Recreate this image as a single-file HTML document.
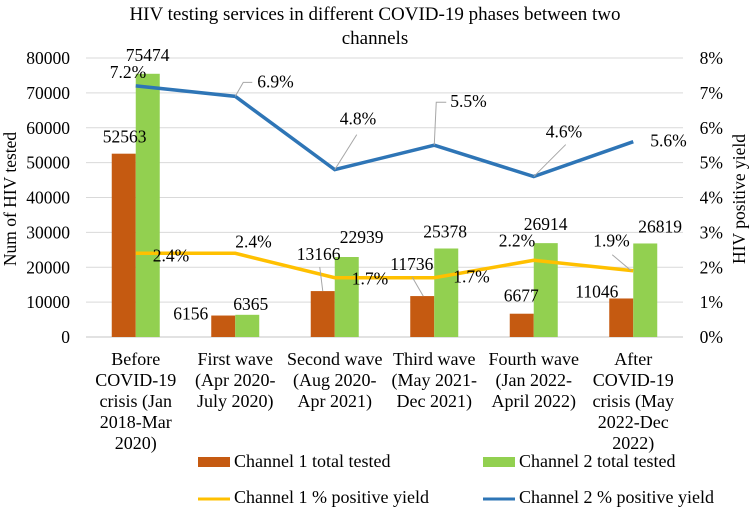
<!DOCTYPE html>
<html><head><meta charset="utf-8"><style>
body{margin:0;background:#fff}
svg text{font-family:"Liberation Serif",serif;fill:#000}
</style></head><body>
<svg id="c" width="750" height="509" xmlns="http://www.w3.org/2000/svg">
<text x="375" y="20" font-size="19" text-anchor="middle">HIV testing services in different COVID-19 phases between two</text>
<text x="375" y="44" font-size="19" text-anchor="middle">channels</text>
<text transform="translate(16,199) rotate(-90)" font-size="17.5" text-anchor="middle">Num of HIV tested</text>
<text transform="translate(745,199) rotate(-90)" font-size="17.5" text-anchor="middle">HIV positive yield</text>
<g id="grid"></g><g id="bars"></g><g id="lines"></g><g id="labels"></g>
<g>
<rect x="198" y="457" width="32" height="10" fill="#c55a11"/>
<text x="234" y="467" font-size="18">Channel 1 total tested</text>
<rect x="483" y="457" width="32" height="10" fill="#92d050"/>
<text x="519" y="467" font-size="18">Channel 2 total tested</text>
<line x1="198" y1="499" x2="230" y2="499" stroke="#ffc000" stroke-width="3"/>
<text x="234" y="503" font-size="18">Channel 1 % positive yield</text>
<line x1="483" y1="499" x2="515" y2="499" stroke="#2e75b6" stroke-width="3"/>
<text x="519" y="503" font-size="18">Channel 2 % positive yield</text>
</g>
</svg>
<script>
const categories=[["Before","COVID-19","crisis (Jan","2018-Mar","2020)"],["First wave","(Apr 2020-","July 2020)"],["Second wave","(Aug 2020-","Apr 2021)"],["Third wave","(May 2021-","Dec 2021)"],["Fourth wave","(Jan 2022-","April 2022)"],["After","COVID-19","crisis (May","2022-Dec","2022)"]];
const ch1Tested=[52563,6156,13166,11736,6677,11046];
const ch2Tested=[75474,6365,22939,25378,26914,26819];
const ch1Yield=[2.4,2.4,1.7,1.7,2.2,1.9];
const ch2Yield=[7.2,6.9,4.8,5.5,4.6,5.6];
const leftTicks=[0,10000,20000,30000,40000,50000,60000,70000,80000];
const rightTicks=[0,1,2,3,4,5,6,7,8];
const NS="http://www.w3.org/2000/svg";
const L=86,R=683,T=58,B=337;
const y=v=>B-(v/80000)*(B-T);
const y2=v=>B-(v/8)*(B-T);
const cw=(R-L)/categories.length;
const cx=i=>L+cw*(i+0.5);
// label offsets (layout only)
const off1=[[-33,-11],[-62,4],[-38,-31],[-44,-26],[-30,-12],[-58,-1]];
const off2=[[-10,-13],[-2,-5],[5,-14],[-11,-11],[-10,-13],[5,-11]];
const offY1=[[17,8],[0,-6],[17,7],[19,5],[-35,-14],[-40,-24]];
const offY2=[[-26,-8],[22,-9],[5,-45],[16,-38],[12,-39],[17,5]];
function mk(g,tag,a){const e=document.createElementNS(NS,tag);for(const k in a)e.setAttribute(k,a[k]);document.getElementById(g).appendChild(e);return e;}
function lead(pts){const ln=mk('labels','polyline',{points:pts.map(p=>p.join(',')).join(' '),fill:'none',stroke:'#a6a6a6','stroke-width':1});
 
 }
leftTicks.forEach(t=>{
 if(t>0){const g=mk('grid','line',{x1:L,x2:R,y1:y(t),y2:y(t),stroke:'#d9d9d9','stroke-width':1});
 
 }
 const tx=mk('grid','text',{x:70,y:y(t)+6,'font-size':17.5,'text-anchor':'end'});tx.textContent=t;
 
 
});
rightTicks.forEach(t=>{const tx=mk('grid','text',{x:723,y:y2(t)+6,'font-size':17.5,'text-anchor':'end'});tx.textContent=t+'%';
 
 });
const ax=mk('grid','line',{x1:L,x2:R,y1:B,y2:B,stroke:'#d9d9d9','stroke-width':1.5});


const bw=24;
categories.forEach((c,i)=>{
 const a=mk('bars','rect',{x:cx(i)-bw,y:y(ch1Tested[i]),width:bw,height:B-y(ch1Tested[i]),fill:'#c55a11'});
 
 
 const b=mk('bars','rect',{x:cx(i),y:y(ch2Tested[i]),width:bw,height:B-y(ch2Tested[i]),fill:'#92d050'});
 
 
 const l1=mk('labels','text',{x:cx(i)+off1[i][0],y:y(ch1Tested[i])+off1[i][1],'font-size':17.5});l1.textContent=ch1Tested[i];
 
 
 const l2=mk('labels','text',{x:cx(i)+off2[i][0],y:y(ch2Tested[i])+off2[i][1],'font-size':17.5});l2.textContent=ch2Tested[i];
 
 
 c.forEach((s,j)=>{const t=mk('labels','text',{x:cx(i),y:365+j*21,'font-size':18,'text-anchor':'middle'});t.textContent=s;
  
  });
});
lead([[cx(2)-12,y(ch1Tested[2])],[cx(2)-15,y(ch1Tested[2])-24]]);
lead([[cx(3)-11,y(ch1Tested[3])],[cx(3)-22,y(ch1Tested[3])-19]]);
const p1=mk('lines','polyline',{points:ch1Yield.map((v,i)=>cx(i)+','+y2(v)).join(' '),fill:'none',stroke:'#ffc000','stroke-width':3.5});


const p2=mk('lines','polyline',{points:ch2Yield.map((v,i)=>cx(i)+','+y2(v)).join(' '),fill:'none',stroke:'#2e75b6','stroke-width':3.5});


ch1Yield.forEach((v,i)=>{
 const t=mk('labels','text',{x:cx(i)+offY1[i][0],y:y2(v)+offY1[i][1],'font-size':17.5});t.textContent=v.toFixed(1)+'%';
 
 
});
lead([[cx(5)-2,y2(ch1Yield[5])],[cx(5)-21,y2(ch1Yield[5])-16]]);
ch2Yield.forEach((v,i)=>{
 const t=mk('labels','text',{x:cx(i)+offY2[i][0],y:y2(v)+offY2[i][1],'font-size':17.5});t.textContent=v.toFixed(1)+'%';
 
 
});
lead([[cx(1),y2(ch2Yield[1])],[cx(1)+8,y2(ch2Yield[1])-14],[cx(1)+17,y2(ch2Yield[1])-14]]);
lead([[cx(2),y2(ch2Yield[2])],[cx(2)+22,y2(ch2Yield[2])-35]]);
lead([[cx(3),y2(ch2Yield[3])],[cx(3)+2,y2(ch2Yield[3])-43],[cx(3)+12,y2(ch2Yield[3])-43]]);
lead([[cx(4),y2(ch2Yield[4])],[cx(4)+32,y2(ch2Yield[4])-32]]);
</script>
</body></html>
